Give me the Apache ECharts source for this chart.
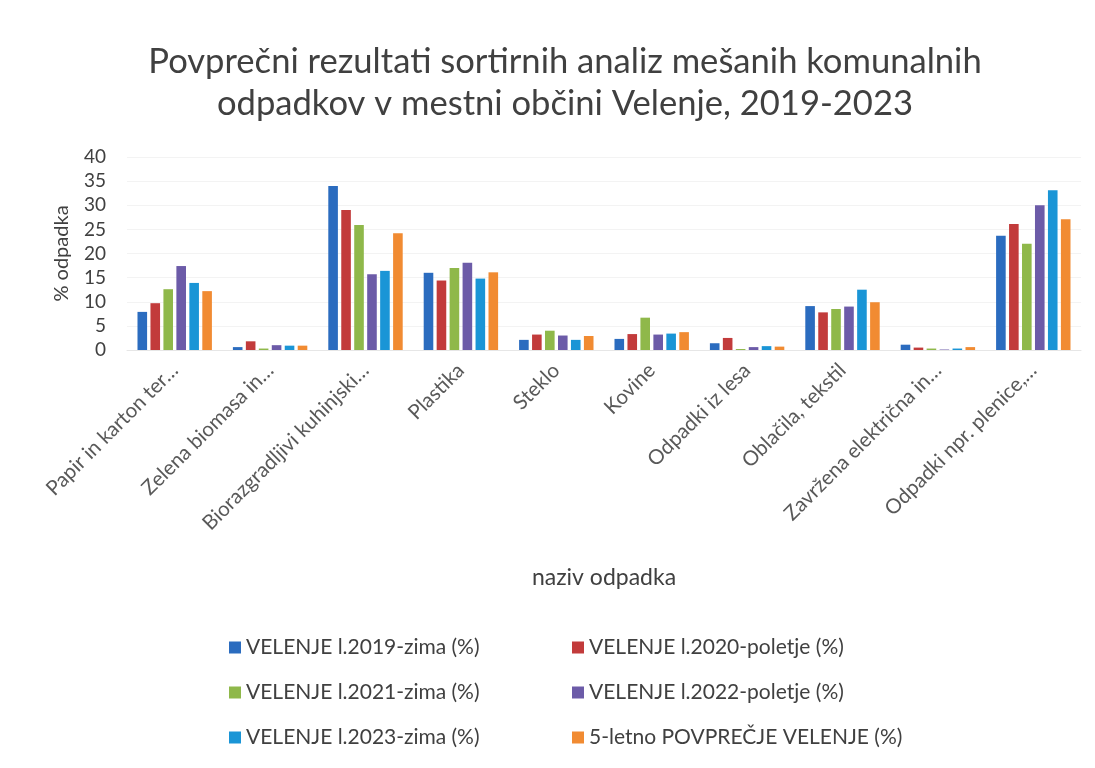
<!DOCTYPE html>
<html>
<head>
<meta charset="utf-8">
<script src="https://cdn.jsdelivr.net/npm/echarts@6/dist/echarts.min.js"></script>
<style>
  html, body { margin: 0; padding: 0; background: #fff; }
  #stage { width: 1095px; height: 768px; }
</style>
</head>
<body>
<div id="stage"></div>
<script>
'use strict';

const categories = [
  'Papir in karton ter…', 'Zelena biomasa in…', 'Biorazgradljivi kuhinjski…',
  'Plastika', 'Steklo', 'Kovine', 'Odpadki iz lesa', 'Oblačila, tekstil',
  'Zavržena električna in…', 'Odpadki npr. plenice,…'
];
const seriesNames = [
  'VELENJE l.2019-zima (%)', 'VELENJE l.2020-poletje (%)',
  'VELENJE l.2021-zima (%)', 'VELENJE l.2022-poletje (%)',
  'VELENJE l.2023-zima (%)', '5-letno POVPREČJE VELENJE (%)'
];
const colors = ['#2b6cbf', '#c23b3b', '#8fb84a', '#6c5ba8', '#1a95d6', '#f18b32'];

const zima2019 = [7.9, 0.6, 34.0, 16.0, 2.1, 2.3, 1.4, 9.1, 1.1, 23.7];
const poletje2020 = [9.7, 1.8, 29.0, 14.4, 3.2, 3.3, 2.5, 7.8, 0.5, 26.1];
const zima2021 = [12.6, 0.3, 25.9, 17.0, 4.0, 6.7, 0.2, 8.5, 0.3, 22.0];
const poletje2022 = [17.4, 1.0, 15.7, 18.1, 3.0, 3.2, 0.6, 9.0, 0.1, 30.0];
const zima2023 = [13.9, 0.9, 16.4, 14.8, 2.1, 3.4, 0.8, 12.5, 0.3, 33.1];
const povprecje = [12.2, 0.9, 24.2, 16.1, 2.9, 3.7, 0.7, 9.9, 0.6, 27.1];
const values = [zima2019, poletje2020, zima2021, poletje2022, zima2023, povprecje];

const yTicks = { min: 0, max: 40, interval: 5 };

const FONT = 'Lato, "Open Sans", sans-serif';
const myChart = echarts.init(document.getElementById('stage'));

// legenda: 2 stolpca x 3 vrstice, vsak element posebej
const legendCols = [224, 567];
const legendRows = [632, 677, 722];
const legends = seriesNames.map(function (name, i) {
  return {
    left: legendCols[i % 2],
    top: legendRows[Math.floor(i / 2)],
    itemWidth: 12,
    itemHeight: 12,
    itemGap: 6,
    icon: 'rect',
    textStyle: { fontFamily: FONT, fontSize: 21, color: '#404040' },
    data: [name]
  };
});

const option = {
  backgroundColor: '#ffffff',
  textStyle: { fontFamily: FONT },
  title: {
    text: 'Povprečni rezultati sortirnih analiz mešanih komunalnih\nodpadkov v mestni občini Velenje, 2019-2023',
    left: 560,
    top: 36,
    textAlign: 'center',
    textStyle: { fontFamily: FONT, fontSize: 34.6, fontWeight: 'normal', color: '#404040', lineHeight: 42 }
  },
  legend: legends,
  grid: { left: 127, right: 14, top: 157, height: 193 },
  xAxis: {
    type: 'category',
    data: categories,
    name: 'naziv odpadka',
    nameLocation: 'middle',
    nameGap: 216,
    nameTextStyle: { fontFamily: FONT, fontSize: 23, color: '#404040' },
    axisLine: { lineStyle: { color: '#e6e6e6' } },
    axisTick: { show: false },
    axisLabel: { rotate: 45, interval: 0, margin: 17, fontFamily: FONT, fontSize: 20.5, color: '#595959' }
  },
  yAxis: {
    type: 'value',
    min: yTicks.min,
    max: yTicks.max,
    interval: yTicks.interval,
    name: '% odpadka',
    nameLocation: 'middle',
    nameGap: 55,
    nameTextStyle: { fontFamily: FONT, fontSize: 20, color: '#404040' },
    axisLine: { show: false },
    axisTick: { show: false },
    axisLabel: { fontFamily: FONT, fontSize: 19, color: '#404040', margin: 21 },
    splitLine: { lineStyle: { color: '#f3f3f3' } }
  },
  series: seriesNames.map(function (name, i) {
    return {
      name: name,
      type: 'bar',
      barGap: '35%',
      barCategoryGap: '22%',
      itemStyle: { color: colors[i] },
      data: values[i]
    };
  })
};

myChart.setOption(option);
</script>
</body>
</html>
